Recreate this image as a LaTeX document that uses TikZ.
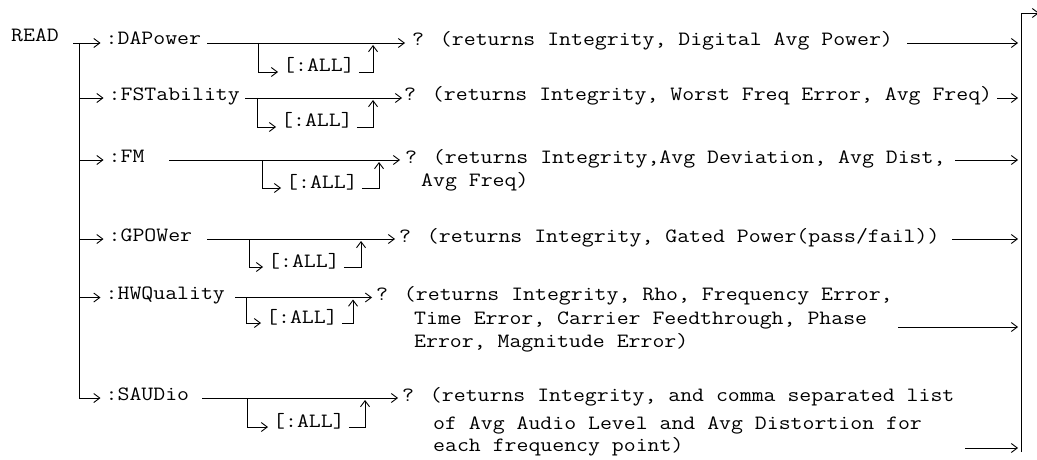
\documentclass[tikz,border=0pt]{standalone}
\usepackage{fontspec}
\newfontfamily\courfont[FakeStretch=1.14]{Latin Modern Mono}
\usetikzlibrary{arrows.meta}
\begin{document}
\begin{tikzpicture}[x=1pt,y=-1pt,
  txt/.style={anchor=base west, inner sep=0pt, font=\courfont\fontsize{20.3}{24}\selectfont},
  ln/.style={line width=0.9pt},
  arr/.style={ln, -{Straight Barb[length=6pt,width=9pt]}}]
\useasboundingbox (0,0) rectangle (1037,460);

% left trunk
\node[txt] (read) at (11,42) {READ};
\coordinate (t0) at (73,43);
\coordinate (t1) at (79,43);
\coordinate (t2) at (79,98);
\coordinate (t3) at (79,160);
\coordinate (t4) at (79,239);
\coordinate (t5) at (79,297.5);
\coordinate (t6) at (79,398);
\draw[ln] (t1) -- (t6);

% right bar
\coordinate (bt) at (1021,13);
\coordinate (bb) at (1021,452);
\coordinate (out) at (1039,13);
\draw[ln] (bb) -- (bt);
\draw[arr] (bt) -- (out);

% ---------- row 1
\node[txt] (c1) at (105.5,45) {:DAPower};
\draw[arr] (t0) -- ([xshift=-5pt]c1.west |- t0);
\coordinate (s1) at (207,43); \coordinate (e1) at (405,43);
\draw[arr] (s1) -- (e1);
\coordinate (d1) at (258,43); \coordinate (u1) at (373,45);
\node[txt] (all1) at (283,72) {[:ALL]};
\draw[arr] (d1) |- ([xshift=-5pt]all1.base west);
\draw[arr] ([xshift=4pt]all1.base east) -| (u1);
\node[txt] (q1) at (412,46) {? (returns Integrity, Digital Avg Power)};
\coordinate (r1) at (907,43); \coordinate (R1) at (1018,43);
\draw[arr] (r1) -- (R1);

% ---------- row 2
\node[txt] (c2) at (108.5,100) {:FSTability};
\draw[arr] (t2) -- ([xshift=-5pt]c2.west |- t2);
\coordinate (s2) at (245,98); \coordinate (e2) at (402,98);
\draw[arr] (s2) -- (e2);
\coordinate (d2) at (257,98); \coordinate (u2) at (373,100);
\node[txt] (all2) at (281,127) {[:ALL]};
\draw[arr] (d2) |- ([xshift=-5pt]all2.base west);
\draw[arr] ([xshift=4pt]all2.base east) -| (u2);
\node[txt] (q2) at (404,101) {? (returns Integrity, Worst Freq Error, Avg Freq)};
\coordinate (r2) at (997,98); \coordinate (R2) at (1018,98);
\draw[arr] (r2) -- (R2);

% ---------- row 3
\node[txt] (c3) at (108.5,162) {:FM};
\draw[arr] (t3) -- ([xshift=-5pt]c3.west |- t3);
\coordinate (s3) at (169,160); \coordinate (e3) at (400,160);
\draw[arr] (s3) -- (e3);
\coordinate (d3) at (262,160); \coordinate (u3) at (379,162);
\node[txt] (all3) at (286,188) {[:ALL]};
\draw[arr] (d3) |- ([xshift=-5pt]all3.base west);
\draw[arr] ([xshift=4pt]all3.base east) -| (u3);
\node[txt] (q3) at (405,163) {? (returns Integrity,Avg Deviation, Avg Dist,};
\node[txt] (q3b) at (421,186) {Avg Freq)};
\coordinate (r3) at (955,160); \coordinate (R3) at (1018,160);
\draw[arr] (r3) -- (R3);

% ---------- row 4
\node[txt] (c4) at (108.5,241) {:GPOWer};
\draw[arr] (t4) -- ([xshift=-5pt]c4.west |- t4);
\coordinate (s4) at (207,239); \coordinate (e4) at (395,239);
\draw[arr] (s4) -- (e4);
\coordinate (d4) at (249,239); \coordinate (u4) at (361,241);
\node[txt] (all4) at (268,267) {[:ALL]};
\draw[arr] (d4) |- ([xshift=-5pt]all4.base west);
\draw[arr] ([xshift=4pt]all4.base east) -| (u4);
\node[txt] (q4) at (399,242) {? (returns Integrity, Gated Power(pass/fail))};
\coordinate (r4) at (952,239); \coordinate (R4) at (1018,239);
\draw[arr] (r4) -- (R4);

% ---------- row 5
\node[txt] (c5) at (105.5,299.5) {:HWQuality};
\draw[arr] (t5) -- ([xshift=-5pt]c5.west |- t5);
\coordinate (s5) at (235,297.5); \coordinate (e5) at (372,297.5);
\draw[arr] (s5) -- (e5);
\coordinate (d5) at (246,297.5); \coordinate (u5) at (353,299.5);
\node[txt] (all5) at (266,323) {[:ALL]};
\draw[arr] (d5) |- ([xshift=-5pt]all5.base west);
\draw[arr] ([xshift=4pt]all5.base east) -| (u5);
\node[txt] (q5) at (376,300.5) {? (returns Integrity, Rho, Frequency Error,};
\node[txt] (q5b) at (414,324) {Time Error, Carrier Feedthrough, Phase};
\node[txt] (q5c) at (414,347) {Error, Magnitude Error)};
\coordinate (r5) at (898,327); \coordinate (R5) at (1018,327);
\draw[arr] (r5) -- (R5);

% ---------- row 6
\node[txt] (c6) at (105.5,400) {:SAUDio};
\draw[arr] (t6) -- ([xshift=-5pt]c6.west |- t6);
\coordinate (s6) at (202,398); \coordinate (e6) at (398,398);
\draw[arr] (s6) -- (e6);
\coordinate (d6) at (247,398); \coordinate (u6) at (365,400);
\node[txt] (all6) at (273,427) {[:ALL]};
\draw[arr] (d6) |- ([xshift=-5pt]all6.base west);
\draw[arr] ([xshift=4pt]all6.base east) -| (u6);
\node[txt] (q6) at (402,401) {? (returns Integrity, and comma separated list};
\node[txt] (q6b) at (433,429) {of Avg Audio Level and Avg Distortion for};
\node[txt] (q6c) at (433,451) {each frequency point)};
\coordinate (r6) at (965,448); \coordinate (R6) at (1018,448);
\draw[arr] (r6) -- (R6);
\end{tikzpicture}
\end{document}
